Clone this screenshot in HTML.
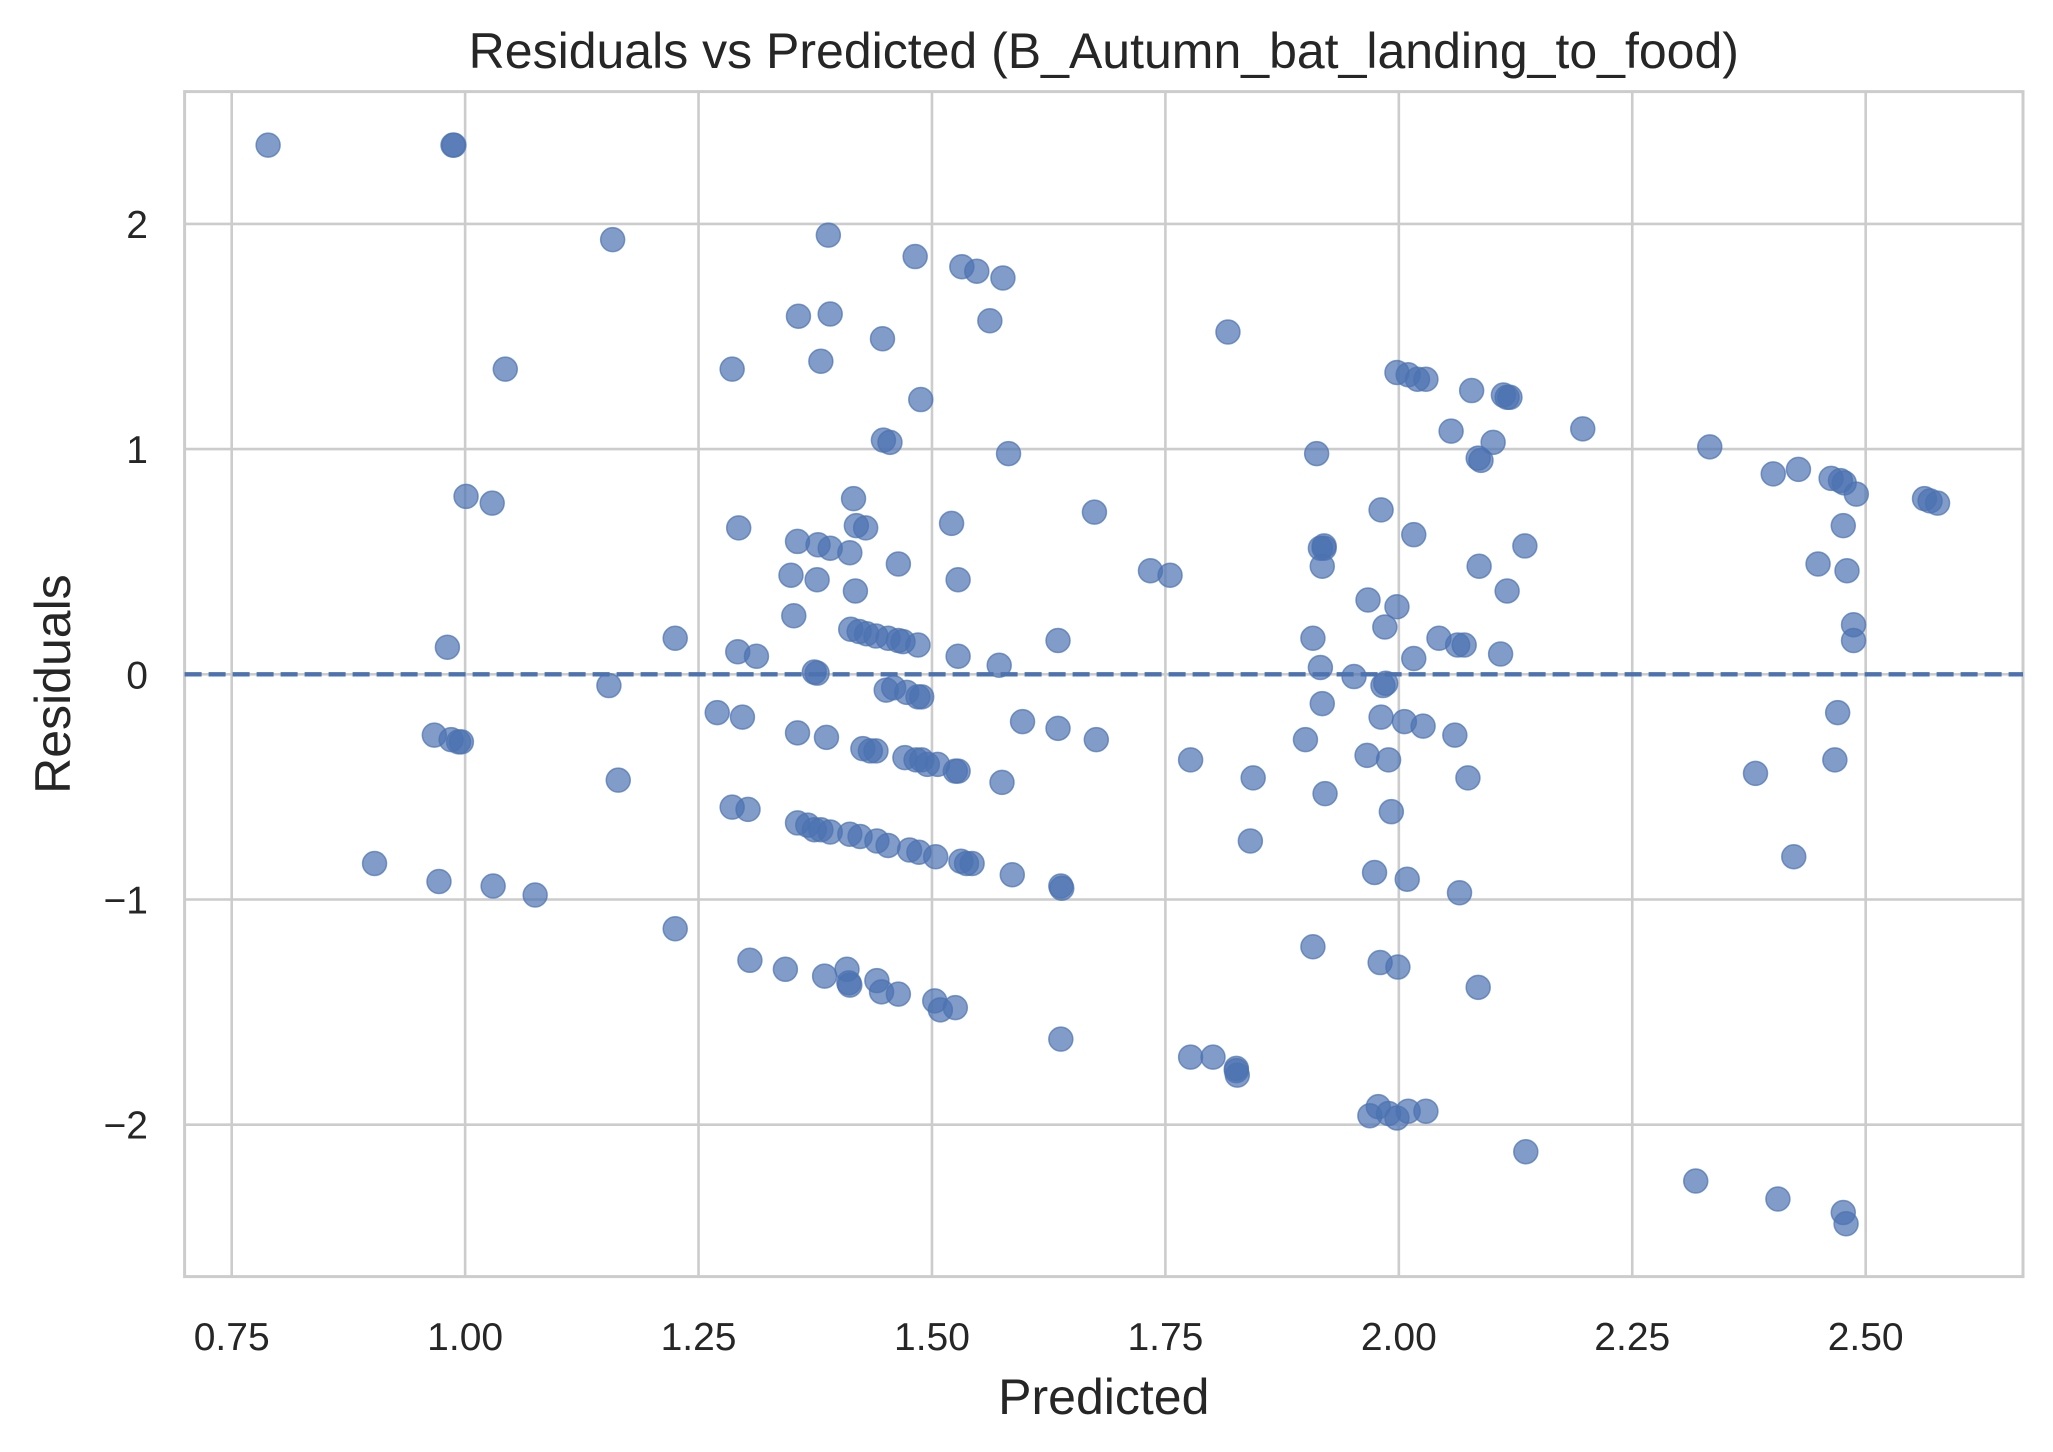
<!DOCTYPE html>
<html><head><meta charset="utf-8"><style>
html,body{margin:0;padding:0;background:#fff;}
svg{display:block;font-family:"Liberation Sans",Arial,sans-serif;}
</style></head><body>
<svg id="chart" width="2053" height="1452" viewBox="0 0 2053 1452" xmlns="http://www.w3.org/2000/svg"></svg>
<script>
const xTicks=[0.75,1.00,1.25,1.50,1.75,2.00,2.25,2.50];
const xTickLabels=["0.75","1.00","1.25","1.50","1.75","2.00","2.25","2.50"];
const yTicks=[-2,-1,0,1,2];
const yTickLabels=["\u22122","\u22121","0","1","2"];
const xs=[0.789,0.987,0.988,1.158,1.043,1.001,1.029,0.981,1.154,1.164,0.967,0.985,0.993,0.996,0.903,0.972,1.030,1.075,1.225,1.225,1.286,1.293,1.270,1.297,1.292,1.312,1.286,1.303,1.305,1.343,1.357,1.391,1.389,1.381,1.447,1.482,1.488,1.448,1.455,1.416,1.419,1.429,1.356,1.378,1.391,1.412,1.349,1.377,1.418,1.464,1.352,1.413,1.422,1.430,1.440,1.453,1.464,1.469,1.485,1.374,1.377,1.356,1.387,1.451,1.459,1.473,1.485,1.489,1.426,1.434,1.440,1.471,1.483,1.489,1.495,1.506,1.525,1.528,1.356,1.367,1.374,1.381,1.391,1.412,1.423,1.441,1.453,1.476,1.486,1.504,1.531,1.537,1.543,1.385,1.409,1.411,1.412,1.441,1.446,1.464,1.503,1.509,1.525,1.528,1.528,1.521,1.532,1.548,1.576,1.562,1.582,1.572,1.575,1.586,1.597,1.635,1.635,1.638,1.639,1.638,1.674,1.676,1.734,1.755,1.777,1.777,1.801,1.826,1.827,1.826,1.817,1.844,1.841,1.912,1.908,1.916,1.920,1.920,1.918,1.916,1.918,1.921,1.900,1.908,1.952,1.967,1.981,1.985,1.998,1.983,1.986,1.981,1.966,1.989,1.992,1.974,2.009,1.980,1.999,1.969,1.978,1.989,1.998,2.010,2.029,1.998,2.010,2.020,2.029,2.016,2.016,2.006,2.026,2.043,2.056,2.063,2.070,2.060,2.074,2.065,2.078,2.085,2.088,2.086,2.085,2.101,2.109,2.112,2.116,2.119,2.116,2.135,2.136,2.197,2.318,2.333,2.382,2.401,2.406,2.423,2.428,2.449,2.463,2.470,2.467,2.473,2.477,2.476,2.480,2.490,2.487,2.487,2.476,2.479,2.563,2.569,2.577];
const ys=[2.35,2.35,2.35,1.93,1.355,0.79,0.76,0.12,-0.05,-0.47,-0.27,-0.29,-0.30,-0.30,-0.84,-0.92,-0.94,-0.98,0.16,-1.13,1.355,0.65,-0.17,-0.19,0.10,0.08,-0.59,-0.60,-1.27,-1.31,1.59,1.60,1.95,1.39,1.49,1.855,1.22,1.04,1.03,0.78,0.66,0.65,0.59,0.575,0.56,0.54,0.44,0.42,0.37,0.49,0.26,0.20,0.19,0.18,0.17,0.16,0.15,0.145,0.13,0.01,0.005,-0.26,-0.28,-0.07,-0.06,-0.08,-0.10,-0.10,-0.33,-0.34,-0.34,-0.37,-0.38,-0.38,-0.40,-0.40,-0.43,-0.43,-0.66,-0.67,-0.69,-0.69,-0.70,-0.71,-0.72,-0.74,-0.76,-0.78,-0.79,-0.81,-0.83,-0.84,-0.84,-1.34,-1.31,-1.37,-1.38,-1.36,-1.41,-1.42,-1.45,-1.49,-1.48,0.08,0.42,0.67,1.81,1.79,1.76,1.57,0.98,0.04,-0.48,-0.89,-0.21,0.15,-0.24,-0.94,-0.95,-1.62,0.72,-0.29,0.46,0.44,-0.38,-1.70,-1.70,-1.75,-1.78,-1.76,1.52,-0.46,-0.74,0.98,0.16,0.56,0.56,0.57,0.48,0.03,-0.13,-0.53,-0.29,-1.21,-0.01,0.33,0.73,0.21,0.30,-0.05,-0.04,-0.19,-0.36,-0.38,-0.61,-0.88,-0.91,-1.28,-1.30,-1.96,-1.92,-1.95,-1.97,-1.94,-1.94,1.34,1.33,1.31,1.31,0.62,0.07,-0.21,-0.23,0.16,1.08,0.13,0.13,-0.27,-0.46,-0.97,1.26,0.96,0.95,0.48,-1.39,1.03,0.09,1.24,1.23,1.23,0.37,0.57,-2.12,1.09,-2.25,1.01,-0.44,0.89,-2.33,-0.81,0.91,0.49,0.87,-0.17,-0.38,0.86,0.85,0.66,0.46,0.80,0.22,0.15,-2.39,-2.44,0.78,0.77,0.76];

const NS="http://www.w3.org/2000/svg";
const svg=document.getElementById('chart');
const L=184.6,R=2023,T=91.6,B=1276.6;
function X(v){return 231.7+(v-0.75)*933.7;}
function Y(v){return 674.3-v*225.2;}
function mk(tag,attrs,parent){const e=document.createElementNS(NS,tag);for(const k in attrs)e.setAttribute(k,attrs[k]);(parent||svg).appendChild(e);return e;}

const grid=mk('g',{});


xTicks.forEach((t,i)=>{
  const l=mk('line',{x1:X(t),x2:X(t),y1:T,y2:B,stroke:'#cccccc','stroke-width':2.6},grid);
  
  
  const tx=mk('text',{x:X(t),y:1350,'font-size':39,'text-anchor':'middle',fill:'#262626'});
  tx.textContent=xTickLabels[i];
  
  
});
yTicks.forEach((t,i)=>{
  const l=mk('line',{x1:L,x2:R,y1:Y(t),y2:Y(t),stroke:'#cccccc','stroke-width':2.6},grid);
  
  
  const tx=mk('text',{x:148,y:Y(t)+14,'font-size':39,'text-anchor':'end',fill:'#262626'});
  tx.textContent=yTickLabels[i];
  
  
});
const frame=mk('rect',{x:L,y:T,width:R-L,height:B-T,fill:'none',stroke:'#cccccc','stroke-width':3});



const pts=mk('g',{});


for(let i=0;i<xs.length;i++){
  const c=mk('circle',{cx:X(xs[i]),cy:Y(ys[i]),r:12,fill:'#4c72b0','fill-opacity':0.7,stroke:'#4c72b0','stroke-opacity':0.7,'stroke-width':1.5},pts);
  
  
}
const zl=mk('line',{x1:L,x2:R,y1:Y(0),y2:Y(0),stroke:'#4c72b0','stroke-width':4.4,'stroke-dasharray':'17 7'});



const title=mk('text',{x:(L+R)/2,y:68,'font-size':50,'text-anchor':'middle',fill:'#262626'});
title.textContent='Residuals vs Predicted (B_Autumn_bat_landing_to_food)';


const xl=mk('text',{x:(L+R)/2,y:1414,'font-size':50,'text-anchor':'middle',fill:'#262626'});
xl.textContent='Predicted';


const yl=mk('text',{x:0,y:0,'font-size':50,'text-anchor':'middle',fill:'#262626',transform:'translate(70,'+((T+B)/2)+') rotate(-90)'});
yl.textContent='Residuals';


</script>
</body></html>
